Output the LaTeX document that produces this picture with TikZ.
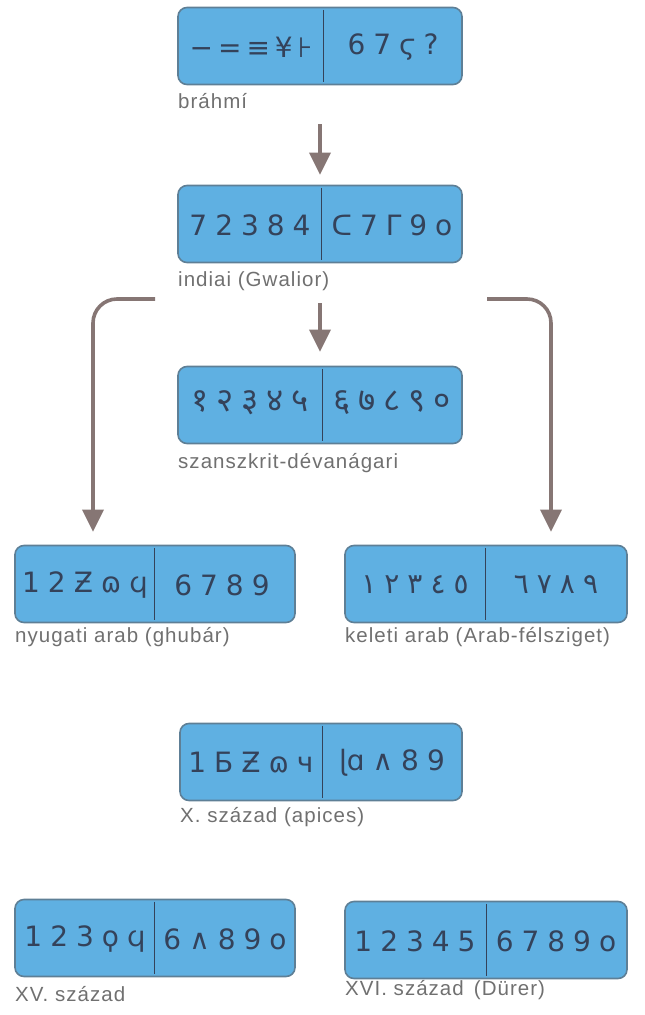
\documentclass[tikz,border=0pt]{standalone}
\usepackage{fontspec}
\setmainfont{Liberation Sans}
\newfontfamily\labfont[LetterSpace=5]{Liberation Sans}
\newfontfamily\glyphfont{DejaVu Sans}
\newfontfamily\devafont[Script=Devanagari]{Noto Sans}
\newcommand\myglyphset{\glyphfont\fontsize{28}{30}\selectfont\spaceskip 8pt\relax}
\newcommand\mydevaset{\devafont\fontsize{33}{36}\selectfont\spaceskip 8pt\relax}
\usetikzlibrary{arrows.meta,calc}
\definecolor{boxfill}{HTML}{5FB0E2}
\definecolor{boxline}{HTML}{5E7F96}
\definecolor{glyphcol}{HTML}{34425A}
\definecolor{labcol}{HTML}{707070}
\definecolor{arrcol}{HTML}{867674}
\tikzset{
  numbox/.style={draw=boxline, fill=boxfill, rounded corners=9pt, line width=1.6pt,
    minimum height=77pt, inner sep=0pt},
  divline/.style={draw=glyphcol, line width=0.8pt},
  glyphs/.style={text=glyphcol, font=\myglyphset, inner sep=0pt},
  devaglyphs/.style={text=glyphcol, font=\mydevaset, inner sep=0pt},
  lab/.style={text=labcol, font=\labfont\fontsize{20.5}{24}\selectfont, inner sep=0pt, anchor=west},
  arr/.style={draw=arrcol, line width=3.6pt, -{Triangle[width=21pt,length=22pt]}},
}
\begin{document}
\begin{tikzpicture}[x=1pt,y=-1pt]
\useasboundingbox (0,0) rectangle (645,1015);
% boxes
\node[numbox, minimum width=284pt] (b1) at (320,46) {};
\node[numbox, minimum width=284pt] (b2) at (320,224) {};
\node[numbox, minimum width=284pt] (b3) at (320,405) {};
\node[numbox, minimum width=280pt] (b4) at (155,584) {};
\node[numbox, minimum width=282pt] (b5) at (486,584) {};
\node[numbox, minimum width=282pt] (b6) at (321,762) {};
\node[numbox, minimum width=280pt] (b7) at (155,938) {};
\node[numbox, minimum width=282pt] (b8) at (486,940) {};
% dividers
\foreach \b/\x in {b1/323,b2/321,b3/322,b4/154,b5/485,b6/322,b7/154,b8/486}{
  \draw[divline] ($(\x,0 |- \b.north)+(0,3)$) -- ($(\x,0 |- \b.south)+(0,-3)$);
}
% glyph rows
\node[glyphs] (g1l) at (251,47) {−\hspace{5pt}=\hspace{5pt}≡\hspace{5pt}¥\hspace{5pt}⊦};
\node[glyphs] (g1r) at (393,47) {6 7 ϛ ?};
\node[glyphs] (g2l) at (250,225) {7 2 3 8 4};
\node[glyphs] (g2r) at (392,225) {ᑕ 7 Γ 9 o};
\node[devaglyphs] (g3l) at (250,403) {१ २ ३ ४ ५};
\node[devaglyphs] (g3r) at (392,403) {६ ७ ८ ९ ०};
\node[glyphs] (g4l) at (85,585) {1 2 Ƶ ɷ ϥ};
\node[glyphs] (g4r) at (222,585) {6 7 8 9};
\node[glyphs] (g5l) at (415,585) {١ ٢ ٣ ٤ ٥};
\node[glyphs] (g5r) at (556,585) {٦ ٧ ٨ ٩};
\node[glyphs] (g6l) at (251,763) {1 Ƃ Ƶ ɷ ч};
\node[glyphs] (g6r) at (392,763) {ɭɑ ∧ 8 9};
\node[glyphs] (g7l) at (85,939) {1 2 3 ϙ ϥ};
\node[glyphs] (g7r) at (225,939) {6 ∧ 8 9 o};
\node[glyphs] (g8l) at (415,941) {1 2 3 4 5};
\node[glyphs] (g8r) at (556,941) {6 7 8 9 o};
% labels
\node[lab] (l1) at (178,101) {bráhmí};
\node[lab] (l2) at (178,281) {indiai (Gwalior)};
\node[lab] (l3) at (178,463) {szanszkrit-dévanágari};
\node[lab] (l4) at (15,637) {nyugati arab (ghubár)};
\node[lab] (l5) at (345,637) {keleti arab (Arab-félsziget)};
\node[lab] (l6) at (180,817) {X. század (apices)};
\node[lab] (l7) at (15,994) {XV. század};
\node[lab] (l8) at (345,990) {XVI. század \,(Dürer)};
% arrows
\coordinate (a1) at (320,124);
\coordinate (a2) at (320,303);
\coordinate (cl) at (155,299);
\coordinate (cr) at (487,299);
\draw[arr, shorten >=10pt] (a1) -- (b2.north);
\draw[arr, shorten >=14pt] (a2) -- (b3.north);
\draw[arr, rounded corners=24pt, shorten >=13pt] (cl) -| ($(b4.north)+(-62,0)$);
\draw[arr, rounded corners=24pt, shorten >=13pt] (cr) -| ($(b5.north)+(65,0)$);
\end{tikzpicture}
\end{document}
